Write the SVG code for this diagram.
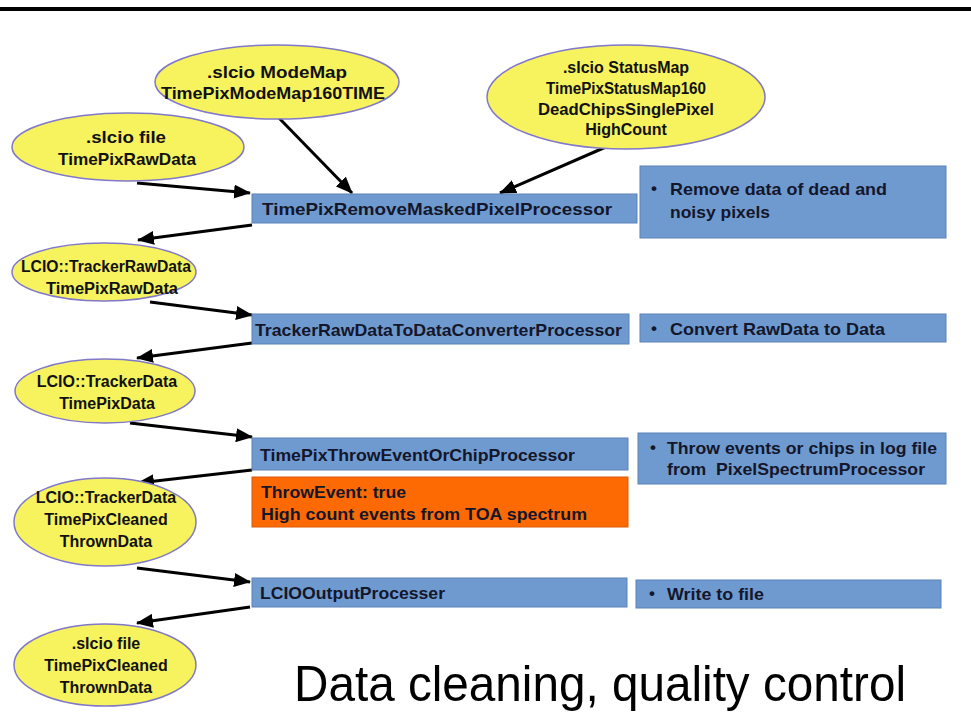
<svg xmlns="http://www.w3.org/2000/svg" width="971" height="718" viewBox="0 0 971 718">
<defs>
<marker id="ah" markerUnits="userSpaceOnUse" markerWidth="18" markerHeight="14" refX="16" refY="7" orient="auto">
<path d="M0,0 L17,7 L0,14 z" fill="#000"/>
</marker>
<style>
.ell{fill:#f7f35e;stroke:#8078c8;stroke-width:1.5}
.box{fill:#6f9ad0;stroke:#5b82b8;stroke-width:1}
.org{fill:#fd6a04;stroke:#d85a05;stroke-width:1}
.t{font-family:"Liberation Sans",Arial,sans-serif;font-weight:bold;font-size:16px;fill:#111}
.tl{font-size:17px}
.tc{text-anchor:middle}
.bt{font-family:"Liberation Sans",Arial,sans-serif;font-weight:bold;font-size:17px;fill:#14162a}
.con{stroke:#000;stroke-width:3;fill:none;marker-end:url(#ah)}
.big{font-family:"Liberation Sans",Arial,sans-serif;font-size:50px;fill:#000}
</style>
</defs>
<rect x="0" y="7" width="971" height="4" fill="#000"/>

<g id="connectors">
<line class="con" x1="137" y1="183" x2="250" y2="193"/>
<line class="con" x1="279" y1="118" x2="352" y2="193"/>
<line class="con" x1="615" y1="143" x2="500" y2="193"/>
<line class="con" x1="252" y1="225" x2="138" y2="240"/>
<line class="con" x1="150" y1="302" x2="252" y2="315"/>
<line class="con" x1="252" y1="343" x2="137" y2="358"/>
<line class="con" x1="130" y1="423" x2="252" y2="437"/>
<line class="con" x1="252" y1="470" x2="138" y2="483"/>
<line class="con" x1="137" y1="568" x2="250" y2="582"/>
<line class="con" x1="250" y1="607" x2="137" y2="623"/>
</g>

<g id="modemap">
<ellipse class="ell" cx="277" cy="82" rx="122" ry="37"/>
<text class="t tl tc" x="277" y="78" textLength="140" lengthAdjust="spacingAndGlyphs">.slcio ModeMap</text>
<text class="t tl tc" x="273" y="99" textLength="224" lengthAdjust="spacingAndGlyphs">TimePixModeMap160TIME</text>
</g>

<g id="statusmap">
<ellipse class="ell" cx="626" cy="97" rx="139" ry="52"/>
<text class="t tc" x="626" y="73">.slcio StatusMap</text>
<text class="t tc" x="626" y="94" textLength="160" lengthAdjust="spacingAndGlyphs">TimePixStatusMap160</text>
<text class="t tc" x="626" y="115" textLength="176" lengthAdjust="spacingAndGlyphs">DeadChipsSinglePixel</text>
<text class="t tc" x="626" y="135">HighCount</text>
</g>

<g id="rawfile">
<ellipse class="ell" cx="128" cy="147" rx="116" ry="34"/>
<text class="t tl tc" x="126" y="143" textLength="80" lengthAdjust="spacingAndGlyphs">.slcio file</text>
<text class="t tl tc" x="127" y="165" textLength="138" lengthAdjust="spacingAndGlyphs">TimePixRawData</text>
</g>

<g id="proc1">
<rect class="box" x="252" y="194" width="385" height="29"/>
<text class="bt" x="262" y="215" textLength="350" lengthAdjust="spacingAndGlyphs">TimePixRemoveMaskedPixelProcessor</text>
</g>
<g id="desc1">
<rect class="box" x="640" y="166" width="306" height="72"/>
<text class="bt" x="651" y="194">•</text>
<text class="bt" x="670" y="195" textLength="217" lengthAdjust="spacingAndGlyphs">Remove data of dead and</text>
<text class="bt" x="670" y="218" textLength="100" lengthAdjust="spacingAndGlyphs">noisy pixels</text>
</g>

<g id="trackerraw">
<ellipse class="ell" cx="104" cy="272" rx="92" ry="29"/>
<text class="t tc" x="106" y="272" textLength="170" lengthAdjust="spacingAndGlyphs">LCIO::TrackerRawData</text>
<text class="t tc" x="112" y="294" textLength="132" lengthAdjust="spacingAndGlyphs">TimePixRawData</text>
</g>

<g id="proc2">
<rect class="box" x="252" y="314" width="377" height="30"/>
<text class="bt" x="255" y="336" textLength="367" lengthAdjust="spacingAndGlyphs">TrackerRawDataToDataConverterProcessor</text>
</g>
<g id="desc2">
<rect class="box" x="640" y="314" width="306" height="28"/>
<text class="bt" x="651" y="334">•</text>
<text class="bt" x="670" y="335" textLength="215" lengthAdjust="spacingAndGlyphs">Convert RawData to Data</text>
</g>

<g id="trackerdata">
<ellipse class="ell" cx="105" cy="391" rx="90" ry="32"/>
<text class="t tc" x="107" y="387">LCIO::TrackerData</text>
<text class="t tc" x="107" y="409">TimePixData</text>
</g>

<g id="proc3">
<rect class="box" x="252" y="438" width="376" height="32"/>
<text class="bt" x="260" y="461" textLength="315" lengthAdjust="spacingAndGlyphs">TimePixThrowEventOrChipProcessor</text>
</g>
<g id="orange">
<rect class="org" x="252" y="477" width="376" height="50"/>
<text class="bt" x="261" y="498" textLength="145" lengthAdjust="spacingAndGlyphs">ThrowEvent: true</text>
<text class="bt" x="261" y="520" textLength="326" lengthAdjust="spacingAndGlyphs">High count events from TOA spectrum</text>
</g>
<g id="desc3">
<rect class="box" x="638" y="433" width="308" height="51"/>
<text class="bt" x="650" y="453">•</text>
<text class="bt" x="667" y="454" textLength="270" lengthAdjust="spacingAndGlyphs">Throw events or chips in log file</text>
<text class="bt" x="667" y="475" textLength="258" lengthAdjust="spacingAndGlyphs" xml:space="preserve">from  PixelSpectrumProcessor</text>
</g>

<g id="cleaned">
<ellipse class="ell" cx="105" cy="522" rx="91" ry="44"/>
<text class="t tc" x="106" y="503">LCIO::TrackerData</text>
<text class="t tc" x="106" y="525">TimePixCleaned</text>
<text class="t tc" x="106" y="547">ThrownData</text>
</g>

<g id="proc4">
<rect class="box" x="252" y="578" width="375" height="29"/>
<text class="bt" x="260" y="599" textLength="185" lengthAdjust="spacingAndGlyphs">LCIOOutputProcesser</text>
</g>
<g id="desc4">
<rect class="box" x="636" y="580" width="305" height="28"/>
<text class="bt" x="649" y="599">•</text>
<text class="bt" x="667" y="600" textLength="97" lengthAdjust="spacingAndGlyphs">Write to file</text>
</g>

<g id="outfile">
<ellipse class="ell" cx="105" cy="665" rx="91" ry="41"/>
<text class="t tc" x="106" y="649">.slcio file</text>
<text class="t tc" x="106" y="671">TimePixCleaned</text>
<text class="t tc" x="106" y="693">ThrownData</text>
</g>

<text class="big" x="294" y="701" textLength="612" lengthAdjust="spacingAndGlyphs">Data cleaning, quality control</text>
</svg>
